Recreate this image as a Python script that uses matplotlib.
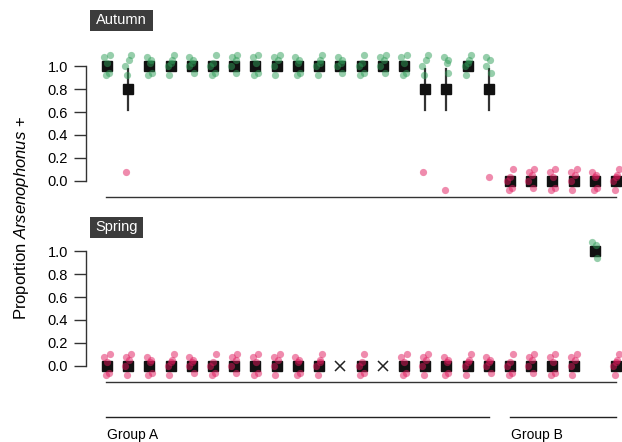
import numpy as np
import matplotlib.pyplot as plt
import matplotlib.transforms as mtransforms
from matplotlib.patches import Rectangle

plt.rcParams['font.family'] = ['Liberation Sans', 'DejaVu Sans']
plt.rcParams['mathtext.fontset'] = 'custom'
plt.rcParams['mathtext.rm'] = 'Liberation Sans'
plt.rcParams['mathtext.it'] = 'Liberation Sans:italic'

# sites: 19 in group A, 6 in group B
n_group_a = 19
n_group_b = 6

# number of Arsenophonus-positive individuals and number sampled per site
autumn_pos = [5, 4, 5, 5, 5, 5, 5, 5, 5, 5, 5, 5, 5, 5, 5, 4, 4, 5, 4,
              0, 0, 0, 0, 0, 0]
autumn_n = [5, 5, 5, 5, 5, 5, 5, 5, 5, 5, 5, 5, 5, 5, 5, 5, 5, 5, 5,
            5, 5, 5, 5, 5, 5]
spring_pos = [0, 0, 0, 0, 0, 0, 0, 0, 0, 0, 0, 0, 0, 0, 0, 0, 0, 0, 0,
              0, 0, 0, 0, 3, 0]
spring_n = [5, 5, 5, 5, 5, 5, 5, 5, 5, 5, 5, 0, 5, 0, 5, 5, 5, 5, 5,
            5, 5, 5, 5, 3, 5]

# fixed jitter pattern for the individual points
jit_x = [-0.12, 0.1, 0.02, -0.06, 0.14, -0.14, 0.06]
jit_y = [0.08, -0.06, 0.03, -0.08, 0.1, 0.0, 0.05]

green = '#2f9e58'
pink = '#e0185c'

W, H = 622, 442
fig = plt.figure(figsize=(W / 100, H / 100), dpi=100)


def px_axes(left, top, right, bottom):
    return fig.add_axes([left / W, 1 - bottom / H, (right - left) / W, (bottom - top) / H])


def draw_panel(ax, pos, n):
    n_sites = len(pos)
    for i in range(n_sites):
        if n[i] == 0:
            ax.plot(i, 0, marker='x', ms=7, mew=1.1, color='#222222', zorder=3)
            continue
        p = pos[i] / n[i]
        se = np.sqrt(p * (1 - p) / n[i])
        if se > 0:
            ax.plot([i, i], [p - se, p + se], color='#333333', lw=1.6, zorder=2)
        ax.plot(i, p, marker='s', ms=7, color='#111111', zorder=2)
        for k in range(n[i]):
            j = (k + 3 * i) % len(jit_x)
            val = 1 if k < pos[i] else 0
            ax.plot(i + jit_x[j], val + jit_y[j], marker='o', ms=5.2, mew=0,
                    color=green if val else pink, alpha=0.5, zorder=4)
    ax.set_xlim(-0.99, 24.28)
    ax.set_ylim(-0.14, 1.14)
    ax.set_xticks([])
    ax.set_yticks([0, 0.2, 0.4, 0.6, 0.8, 1.0])
    ax.set_yticklabels(['0.0', '0.2', '0.4', '0.6', '0.8', '1.0'])
    ax.tick_params(axis='y', length=9, width=1, pad=4, labelsize=10.5, color='#333333')
    for s in ['top', 'right']:
        ax.spines[s].set_visible(False)
    ax.spines['left'].set_bounds(0, 1)
    ax.spines['bottom'].set_bounds(-0.05, 24.0)
    for s in ['left', 'bottom']:
        ax.spines[s].set_linewidth(1)
        ax.spines[s].set_color('#333333')
    ax.patch.set_visible(False)


ax1 = px_axes(86, 50, 622, 197)
draw_panel(ax1, autumn_pos, autumn_n)
ax2 = px_axes(86, 235, 622, 382)
draw_panel(ax2, spring_pos, spring_n)

# panel titles in dark boxes
for label, (x0, y0, x1, y1) in [('Autumn', (90, 10, 153, 31)), ('Spring', (90, 217, 143, 238))]:
    fig.patches.append(Rectangle((x0 / W, 1 - y1 / H), (x1 - x0) / W, (y1 - y0) / H,
                                 transform=fig.transFigure, fc='#3c3c3c', ec='none'))
    fig.text((x0 + x1) / 2 / W, 1 - (y0 + y1) / 2 / H, label, color='white',
             fontsize=10.5, ha='center', va='center')

fig.text(22 / W, 1 - 218 / H, 'Proportion $\\mathit{Arsenophonus}$ +', rotation=90,
         ha='center', va='center', fontsize=12)

# group brackets under the lower panel
trans = mtransforms.blended_transform_factory(ax2.transData, fig.transFigure)
groups = [('Group A', -0.05, n_group_a - 1), ('Group B', n_group_a, n_group_a + n_group_b - 1)]
for name, g0, g1 in groups:
    ax2.plot([g0, g1], [1 - 417 / H] * 2, transform=trans, color='#222222', lw=1, clip_on=False)
    ax2.text(g0 + 0.05, 1 - 434.5 / H, name, transform=trans, ha='left', va='center', fontsize=10)

fig.savefig('out.png', dpi=100)
